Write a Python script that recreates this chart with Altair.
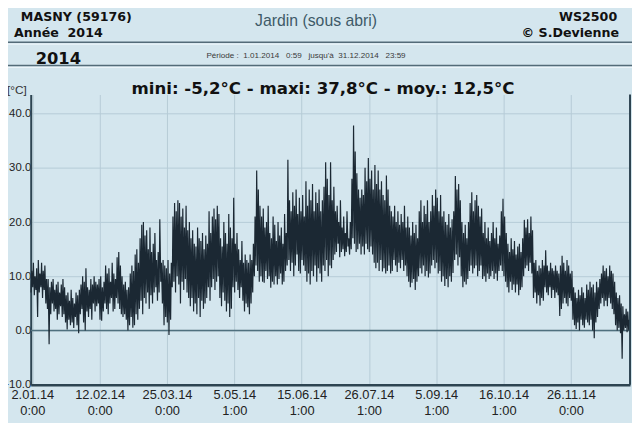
import json
import altair as alt
import pandas as pd

# ---- data: daily minimum / maximum (°C), 1.01.2014 .. 31.12.2014 ----
DAILY_MAX = [
    11, 12.5, 10, 11.5, 13, 10.5, 12.5, 11, 12, 9.5,
    9.5, 8, 9, 9.5, 7.5, 8.5, 9, 7, 8.5, 9.5,
    8, 6.5, 7, 5.5, 7.5, 6, 5, 7, 6.5, 7.5,
    8.5, 10, 9, 11.5, 8, 7.5, 9.5, 8.5, 10, 9,
    8.5, 9.5, 10, 8, 9, 12, 10.5, 11.5, 9, 12.5,
    10.5, 9.5, 13.5, 14.5, 12, 10, 8.5, 9, 7.5, 8,
    10.5, 12, 11, 14, 15, 12.5, 17, 19.5, 20, 17.5,
    18.5, 15, 19, 14.5, 16, 18, 13, 14.5, 20.5, 12.5,
    13, 12, 11.5, 13, 10.5, 12.5, 21, 23.5, 22, 24,
    23.5, 21, 22.5, 19, 23, 18.5, 20, 17, 18.5, 16,
    15.5, 19, 17, 16.5, 18, 15, 17.5, 16, 22, 18,
    21, 22.5, 20.5, 23, 21.5, 17, 15.5, 20, 18, 16,
    21.5, 19, 17, 24.5, 16, 18, 15, 13, 16.5, 12.5,
    14, 13, 12.5, 14, 13, 16, 21, 29.5, 26, 23,
    21, 22.5, 19, 20, 23, 18, 17, 21, 19.5, 16.5,
    20, 17.5, 19, 16, 21.5, 18, 31.5, 24, 22, 25.5,
    23, 26, 21.5, 24.5, 22, 25, 21, 27.5, 23, 26,
    24, 27, 22, 25.5, 23.5, 26, 22, 24, 26.5, 31,
    28, 25, 31, 24, 26.5, 22, 23, 20, 24, 19,
    21, 18, 22, 17, 20, 28, 37.8, 33, 29, 26,
    24.5, 26, 25, 30, 27.5, 31.8, 28, 29.5, 26, 30.5,
    27, 29.5, 26, 27.5, 25, 24, 28.6, 26, 23, 22,
    21, 23, 20, 22, 19.5, 21.5, 20, 23, 19, 21,
    19, 17.5, 20, 18, 19.5, 17, 22, 24, 20, 23,
    21.5, 24, 20, 22, 25, 23, 26, 24.5, 22, 25,
    21, 22, 20, 19.5, 21.5, 19, 20.5, 22, 28.5, 26,
    27, 24, 20, 18, 19.5, 17, 20, 23.5, 25.5, 22,
    24, 25, 23, 21, 22.5, 18, 20, 17, 19, 16.5,
    18, 20, 17, 19, 16, 17.5, 22, 24.3, 21, 18,
    16, 14.5, 17, 15, 16.5, 14, 15.5, 16, 14.5, 17,
    20.4, 19, 20.5, 18, 21, 18.5, 12.5, 13, 11, 12,
    11.5, 13, 12, 14.8, 12, 11, 12.5, 11.5, 11, 12,
    11, 10.5, 12, 13.8, 12.5, 11, 13, 12, 10.5, 11,
    8, 7, 6, 7.5, 6.5, 8, 7, 6, 8.5, 7.5,
    9, 8, 8.5, 7, 9, 8, 9.5, 10.5, 12, 11,
    11.5, 10, 12, 11, 10.5, 9, 7, 6, 6.5, 5,
    4.5, 3, 4, 3.5, 2,
]
DAILY_MIN = [
    7, 8, 6.5, 7.5, 2.5, 7, 8, 6, 7.5, 5,
    4, -2.5, 3, 5, 3.5, 4, 2, 3, 4.5, 2.5,
    3, 1.5, 0.2, 2, 1, 1.5, 0.5, 2.5, 1, -0.5,
    3, 4, 1.5, 0, 3.5, 2.5, 4, 2, 5, 3.5,
    4.5, 5, 2, 1.8, 3.5, 5, 4, 3, 5, 6,
    3.5, 4, 6, 5, 4, 3, 2.5, 3, 2, 0,
    1, 2.5, 0.5, 1, 3, 2, 4, 5.5, 3, 6,
    5, 7, 4, 6.5, 5, 7, 8, 5.5, 7, 9,
    5, 1, 2.5, 1.5, -0.8, 2, 8, 9, 7, 10,
    8.5, 5, 9, 7.5, 9.5, 7, 6, 4.5, 6, 3.5,
    5, 3, 6, 2.5, 5.5, 4, 5, 6, 8, 5.5,
    8, 9.5, 7.5, 9, 10, 6, 4.5, 7, 5.5, 3.5,
    5, 2.5, 4, 8, 7, 9, 7.5, 6, 8, 5.5,
    3.5, 5, 4.3, 3, 5, 7, 10, 12, 11, 9,
    10, 9, 8.8, 11, 9.5, 10, 7.9, 9, 8.5, 10,
    8.5, 9.5, 10.5, 8.5, 9, 11, 12, 13, 11, 12.5,
    10, 12, 14, 11, 10.5, 13, 12, 11, 9, 10.5,
    8.5, 11, 10, 12, 9, 11.5, 10.5, 9, 12, 11,
    13, 10, 12, 11.5, 13, 14, 14.5, 16, 13.5, 14.5,
    15, 13.7, 14.5, 15.5, 14, 15, 17, 16, 14.5, 15,
    16, 14, 15.5, 14, 16, 15, 14.5, 15.5, 14, 12.5,
    11.5, 12.5, 11, 13, 10.9, 11.5, 10.5, 11, 12, 10.5,
    11, 13, 12, 10.8, 12.5, 11.5, 13, 11, 12, 10,
    9, 8, 8.8, 9.5, 7.5, 9, 10, 11.5, 10.5, 12,
    10, 11, 9.8, 10.5, 12, 13, 11.5, 12.5, 10.5, 11,
    9, 10, 8.2, 9.5, 8, 10, 9, 10.6, 13, 14,
    12, 13.5, 10, 8, 9, 8.5, 9.5, 11, 12, 10.5,
    11.5, 12, 10, 11, 12, 9.5, 10, 9, 10.5, 9.5,
    10, 11, 9.5, 10.5, 9.2, 11, 12, 11, 10, 9,
    8, 7, 9, 7.5, 8.5, 7, 8.5, 6.5, 7.5, 8,
    10, 11.5, 12, 11, 12.5, 10.5, 6, 7, 5, 6.5,
    4.6, 6, 5.5, 8, 7, 6.5, 8, 6, 7.5, 6,
    7, 6.5, 2.7, 4, 5, 6, 5, 4.5, 6, 5.5,
    2, 1, 0.3, 1.5, 0, 2, 1, 0.5, 2, 1.5,
    1, 2, 0, -1.4, 1.5, 2.5, 4, 5, 6, 4.5,
    5.5, 4.5, 6, 5, 4, 3, 1, 0, 0.5, -0.5,
    -5.2, 0, 0.5, -0.3, 0,
]

# axis ticks
TICK_MONTH_DAY = [(1, 2), (2, 12), (3, 25), (5, 5), (6, 15), (7, 26), (9, 5), (10, 16), (11, 26)]
TICK_DATE_LABELS = ["2.01.14", "12.02.14", "25.03.14", "5.05.14", "15.06.14",
                    "26.07.14", "5.09.14", "16.10.14", "26.11.14"]
TICK_TIME_LABELS = ["0:00", "0:00", "0:00", "1:00", "1:00", "1:00", "1:00", "1:00", "0:00"]
Y_TICKS = [-10, -5, 0, 5, 10, 15, 20, 25, 30, 35, 40]

# texts
NB = "\u00a0"
T_STATION = "MASNY (59176)"
T_YEAR_HDR = f"Année{NB}{NB}2014"
T_SENSOR = "Jardin (sous abri)"
T_DEVICE = "WS2500"
T_AUTHOR = "© S.Devienne"
T_YEAR = "2014"
T_PERIOD = f"Période{NB}:{NB}{NB}1.01.2014{NB}{NB}{NB}0:59{NB}{NB}{NB}jusqu'à{NB}{NB}31.12.2014{NB}{NB}{NB}23:59"
T_TITLE = "mini: -5,2°C - maxi: 37,8°C - moy.: 12,5°C"
T_UNIT = "[°C]"

# ---- build table: each day goes low (early morning) then high (afternoon) ----
start = pd.Timestamp("2014-01-01")
rows = []
for d, (lo, hi) in enumerate(zip(DAILY_MIN, DAILY_MAX)):
    rows.append({"t": start + pd.Timedelta(days=d, hours=5), "v": lo})
    rows.append({"t": start + pd.Timedelta(days=d, hours=15), "v": hi})
df = pd.DataFrame(rows)

W, H = 607, 294
BG = "#d4e6ee"
AXIS_C = "#2d4451"
GRID_C = "#b6cbd6"
FONT_B = "DejaVu Sans"
FONT_N = "Liberation Sans"

labels = [[a, b] for a, b in zip(TICK_DATE_LABELS, TICK_TIME_LABELS)]
label_expr = (json.dumps(labels)
              + "[round((datum.value - datetime(2014,0,2)) / (41*86400000))]")

x_enc = alt.X(
    "t:T",
    scale=alt.Scale(domain=[alt.DateTime(year=2014, month=1, date=1),
                            alt.DateTime(year=2015, month=1, date=1)]),
    axis=alt.Axis(
        values=[alt.DateTime(year=2014, month=m, date=d) for m, d in TICK_MONTH_DAY],
        labelExpr=label_expr, title=None, grid=True, gridColor=GRID_C, gridWidth=1,
        ticks=False, domainColor=AXIS_C, domainWidth=2.5,
        labelFont=FONT_N, labelFontSize=13, labelColor="#222222", labelPadding=4,
        labelLineHeight=16, labelFlush=False, labelOverlap=False, labelBound=False,
    ),
)
y_enc = alt.Y(
    "v:Q",
    scale=alt.Scale(domain=[-10, 43.5], nice=False, zero=False),
    axis=alt.Axis(
        values=Y_TICKS, format=".1f", title=None, grid=True, gridColor=GRID_C,
        gridWidth=1, ticks=False, domainColor=AXIS_C, domainWidth=2,
        labelFont=FONT_N, labelFontSize=11.5, labelColor="#222222", labelPadding=0,
    ),
)

line = alt.Chart(df).mark_line(color="#1b2833", strokeWidth=1.2).encode(x=x_enc, y=y_enc)

zero = alt.Chart(pd.DataFrame({"v": [0]})).mark_rule(
    color="#4f707e", strokeWidth=1.6).encode(y="v:Q")

one = alt.Data(values=[{"k": 0}])

right_border = alt.Chart(one).mark_rule(color=AXIS_C, strokeWidth=2).encode(
    x=alt.value(W), y=alt.value(0), y2=alt.value(H))


def hline(y, color, width):
    return alt.Chart(one).mark_rule(color=color, strokeWidth=width).encode(
        x=alt.value(-23), x2=alt.value(W + 2), y=alt.value(y))


def txt(text, x, y, align="left", size=14, weight="bold", font=FONT_B, color="#111111"):
    return alt.Chart(one).mark_text(
        text=text, align=align, baseline="middle", fontSize=size,
        fontWeight=weight, font=font, color=color,
    ).encode(x=alt.value(x), y=alt.value(y))


layers = [
    zero, line, right_border,
    hline(-53, "#536b78", 1.5), hline(-51, "#eef6fa", 1),
    hline(-29.5, "#536b78", 1.5), hline(-27.5, "#eef6fa", 1),
    txt(T_STATION, -10, -78, size=12.8),
    txt(T_YEAR_HDR, -17, -62, size=12.8),
    txt(T_SENSOR, 289, -74, align="center", size=16, weight="normal", font=FONT_N, color="#3e5a68"),
    txt(T_DEVICE, 594, -78, align="right", size=12.8),
    txt(T_AUTHOR, 596, -62, align="right", size=12.8),
    txt(T_YEAR, 5, -36, size=16.5),
    txt(T_PERIOD, 178, -39, size=8.2, weight="normal", font=FONT_N, color="#3a3a3a"),
    txt(T_TITLE, 296, -6, align="center", size=16.8),
    txt(T_UNIT, -24, -5, size=12, weight="normal", font=FONT_N, color="#333333"),
]

chart = alt.layer(*layers).properties(
    width=W, height=H,
    padding={"left": 23, "top": 85, "right": 2, "bottom": 36},
    autosize=alt.AutoSizeParams(type="none"),
    background=BG,
).configure_view(stroke=None)

chart.save("out.html", embed_options={"renderer": "svg", "actions": False})
